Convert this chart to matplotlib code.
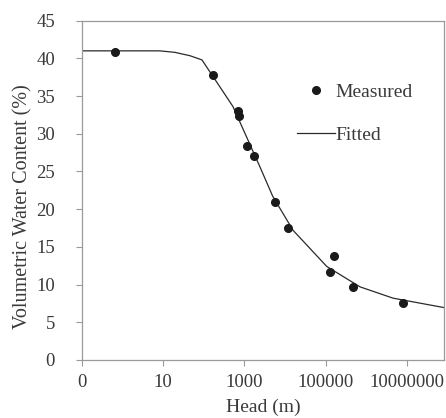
import numpy as np
import matplotlib
matplotlib.use('Agg')
import matplotlib.pyplot as plt

plt.rcParams['font.family'] = ['Liberation Serif', 'DejaVu Serif']

# measured points (head in m, water content in %)
head_meas = [0.65, 171, 683, 736, 1180, 1750, 5770, 12100, 130000, 161000, 465000, 7.9e6]
theta_meas = [40.8, 37.8, 33.0, 32.3, 28.4, 27.1, 20.9, 17.45, 11.7, 13.8, 9.7, 7.6]

# fitted curve
head_fit = [0.1, 8.3, 19.5, 46, 90, 142, 525, 2420, 5000, 15800, 107000, 705000, 4.6e6, 9.3e7]
theta_fit = [41.0, 41.0, 40.8, 40.35, 39.8, 38.2, 33.6, 25.6, 21.7, 17.2, 12.4, 9.7, 8.2, 6.9]

xticks = [0.1, 10, 1000, 100000, 10000000]
xticklabels = ['0', '10', '1000', '100000', '10000000']
yticks = list(range(0, 50, 5))

fig = plt.figure(figsize=(4.46, 4.18), dpi=100)
ax = fig.add_axes([82/446, 58/418, 362/446, 339.3/418])

ax.plot(head_fit, theta_fit, color='#2a2a2a', lw=0.9, label='Fitted', zorder=2)
ax.plot(head_meas, theta_meas, 'o', color='#1a1a1a', ms=5.5, label='Measured', zorder=3)

ax.set_xscale('log')
ax.set_xlim(0.1, 0.1 * 10 ** (362 / 40.6))
ax.set_ylim(0, 45)
ax.set_xticks(xticks)
ax.set_xticklabels(xticklabels)
ax.xaxis.set_minor_locator(matplotlib.ticker.NullLocator())
ax.set_yticks(yticks)

for s in ax.spines.values():
    s.set_color('#9a9a9a')
    s.set_linewidth(0.9)
ax.tick_params(colors='#9a9a9a', labelcolor='#3a3a3a', labelsize=13.5, length=4, width=0.8, direction='out')
ax.tick_params(axis='x', pad=6)
ax.tick_params(axis='y', pad=15.5)

ax.set_xlabel('Head (m)', fontsize=14, color='#3a3a3a')
ax.xaxis.set_label_coords(0.5, (360 - 399) / 339.3)
ax.set_ylabel('Volumetric Water Content (%)', fontsize=14.5, color='#3a3a3a')
ax.yaxis.set_label_coords((32 - 82) / 362, (360 - 207) / 339.3)

h, l = ax.get_legend_handles_labels()
ax.legend(h[::-1], l[::-1], loc='upper left', bbox_to_anchor=((297 - 82) / 362, (360 - 83) / 339.3),
          frameon=False, borderpad=0, borderaxespad=0, handlelength=1.95, handletextpad=0.02,
          labelspacing=1.3, fontsize=14, labelcolor='#3a3a3a')

fig.savefig('out.png', dpi=100)
